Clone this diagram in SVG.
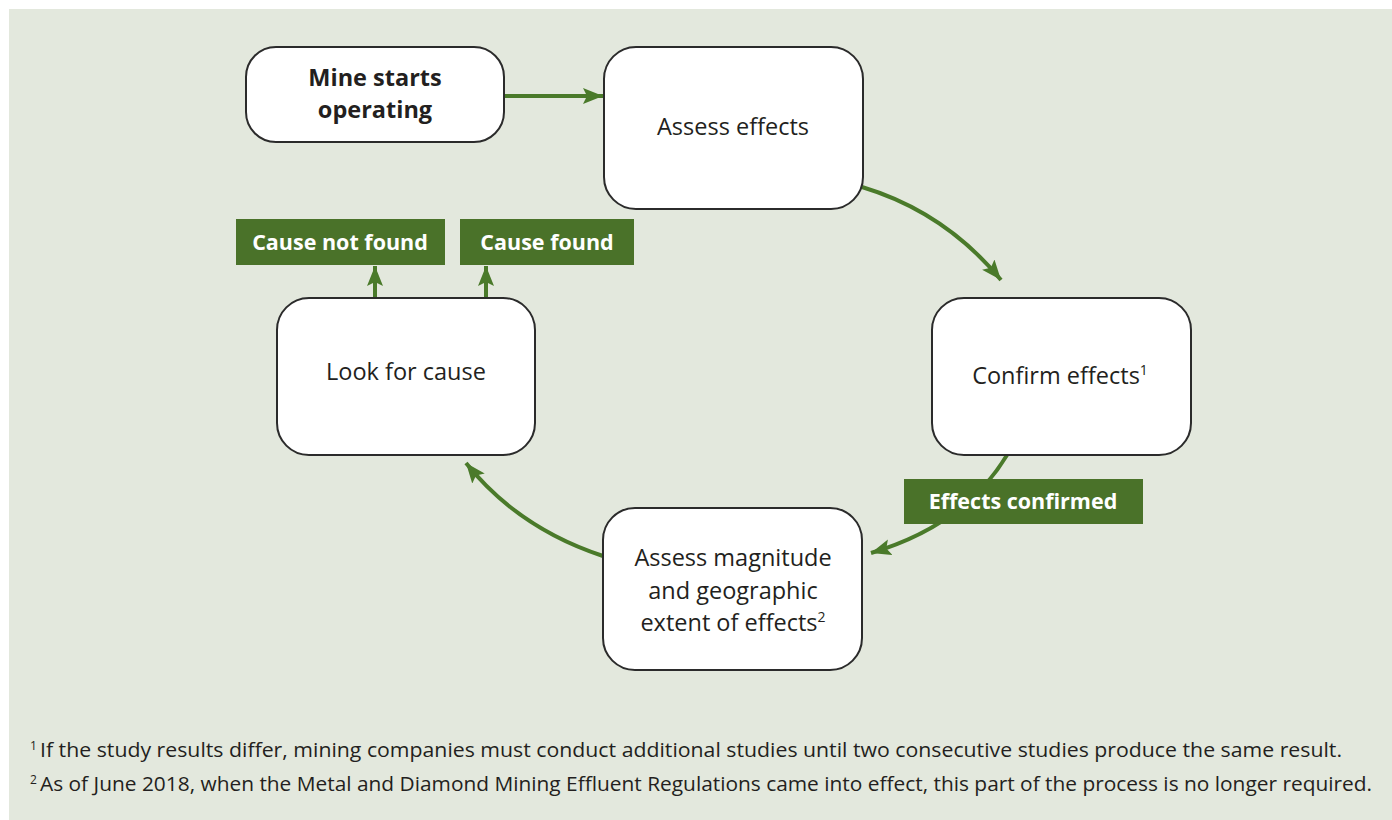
<svg xmlns="http://www.w3.org/2000/svg" width="1392" height="820" viewBox="0 0 1392 820">
<defs>
<marker id="ah" markerUnits="userSpaceOnUse" markerWidth="24" markerHeight="20" refX="20" refY="8" orient="auto">
<path d="M0,0 L20,8 L0,16 L4,8 Z" fill="#4a7a2a"/>
</marker>
<style>
.node{fill:#fff;stroke:#2b2b2b;stroke-width:2}
.t{font-family:"Open Sans","Noto Sans",sans-serif;font-size:23.5px;fill:#231f20;text-anchor:middle}
.b{font-weight:bold}
.lab{fill:#4a7229}
.lt{font-family:"Open Sans","Noto Sans",sans-serif;font-size:21.5px;font-weight:bold;fill:#fff;text-anchor:middle}
.con{fill:none;stroke:#4a7a2a;stroke-width:4;marker-end:url(#ah)}
.fn{font-family:"Open Sans","Noto Sans",sans-serif;font-size:20px;fill:#231f20}
.sup{font-size:14px}
.fsup{font-size:12px}
</style>
</defs>
<rect x="9" y="9" width="1383" height="811" fill="#e3e8dd"/>
<g id="connectors">
<path class="con" d="M504,96 L603,96"/>
<path class="con" d="M862,187 Q945,212 1001,280"/>
<path class="con" d="M1007,455 Q965,525 871,553"/>
<path class="con" d="M603,556 Q518,528 466,463"/>
<path class="con" d="M375,298 L375,266"/>
<path class="con" d="M486,298 L486,266"/>
</g>
<g id="mine">
<rect class="node" x="246" y="47" width="258" height="95" rx="30"/>
<text class="t b" x="375" y="86">Mine starts</text>
<text class="t b" x="375" y="118">operating</text>
</g>
<g id="assess">
<rect class="node" x="604" y="47" width="259" height="162" rx="32"/>
<text class="t" x="733" y="135">Assess effects</text>
</g>
<g id="confirm">
<rect class="node" x="932" y="298" width="259" height="157" rx="32"/>
<text class="t" x="1060" y="384">Confirm effects<tspan class="sup" dy="-9">1</tspan></text>
</g>
<g id="magnitude">
<rect class="node" x="603" y="508" width="259" height="162" rx="32"/>
<text class="t" x="733" y="566">Assess magnitude</text>
<text class="t" x="733" y="599">and geographic</text>
<text class="t" x="733" y="631">extent of effects<tspan class="sup" dy="-9">2</tspan></text>
</g>
<g id="look">
<rect class="node" x="277" y="298" width="258" height="157" rx="32"/>
<text class="t" x="406" y="380">Look for cause</text>
</g>
<g id="notfound">
<rect class="lab" x="236" y="219" width="209" height="46"/>
<text class="lt" x="340" y="250">Cause not found</text>
</g>
<g id="found">
<rect class="lab" x="460" y="219" width="174" height="46"/>
<text class="lt" x="547" y="250">Cause found</text>
</g>
<g id="effconf">
<rect class="lab" x="904" y="479" width="239" height="45"/>
<text class="lt" x="1023" y="509">Effects confirmed</text>
</g>
<g id="footnotes">
<text class="fn fsup" x="30" y="750">1</text>
<text class="fn" x="40" y="757" textLength="1302" lengthAdjust="spacingAndGlyphs">If the study results differ, mining companies must conduct additional studies until two consecutive studies produce the same result.</text>
<text class="fn fsup" x="30" y="784">2</text>
<text class="fn" x="40" y="791" textLength="1332" lengthAdjust="spacingAndGlyphs">As of June 2018, when the Metal and Diamond Mining Effluent Regulations came into effect, this part of the process is no longer required.</text>
</g>
</svg>
